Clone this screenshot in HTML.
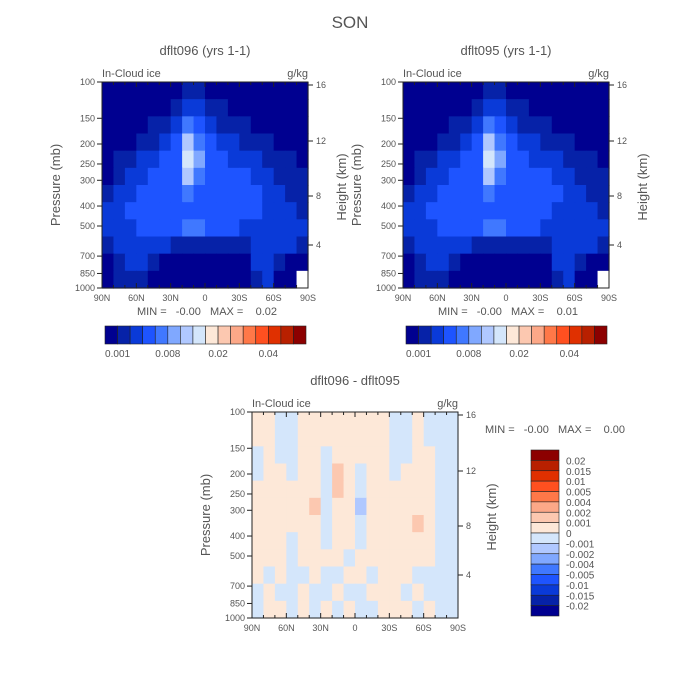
<!DOCTYPE html>
<html><head><meta charset="utf-8">
<style>
html,body{margin:0;padding:0;background:#fff;}
svg{display:block;}
text{font-family:"Liberation Sans",sans-serif;fill:#555;white-space:pre;}
</style></head>
<body>
<svg id="chart" width="700" height="700" viewBox="0 0 700 700">
<text x="350" y="28" font-size="17" text-anchor="middle">SON</text>
</svg>
<script>
const colors=["#000090","#0622a8","#0a3ad8","#1e54ff","#4078ff","#80a8ff","#b0c8ff","#d4e6fb","#fde8d8","#fcc8b0","#fca888","#ff7848","#ff5020","#e03000","#b82000","#8c0000"];
const latLabels=["90N","60N","30N","0","30S","60S","90S"];
const presTicks=[100,150,200,250,300,400,500,700,850,1000];
const heightTicks=[16,12,8,4];
const heightTickPx=[3,59,114,163];
const topBarLabels=["0.001","0.008","0.02","0.04"];
const topBarLabelIdx=[1,5,9,13];
const diffLabels=["0.02","0.015","0.01","0.005","0.004","0.002","0.001","0","-0.001","-0.002","-0.004","-0.005","-0.01","-0.015","-0.02"];
const gridA=[
[0,0,0,0,0,0,0,1,1,0,0,0,0,0,0,0,0,0],
[0,0,0,0,0,0,1,2,2,1,1,0,0,0,0,0,0,0],
[0,0,0,0,1,1,2,4,3,2,1,1,1,0,0,0,0,0],
[0,0,0,1,1,2,3,6,4,3,2,2,1,1,1,0,0,0],
[0,1,1,2,2,3,3,7,5,3,3,2,2,2,1,1,1,0],
[0,1,2,2,3,3,3,6,4,3,3,3,3,2,2,1,1,1],
[1,2,2,3,3,3,3,4,3,3,3,3,3,3,2,2,1,1],
[2,2,3,3,3,3,3,3,3,3,3,3,3,3,2,2,2,1],
[2,2,2,3,3,3,3,4,4,3,3,3,2,2,2,2,2,2],
[1,2,2,2,2,2,1,1,1,1,1,1,1,2,2,2,2,1],
[0,1,2,2,1,0,0,0,0,0,0,0,0,2,2,1,0,0],
[0,1,1,1,0,0,0,0,0,0,0,0,0,1,2,0,0,-1]];
const gridB=[
[0,0,0,0,0,0,0,1,1,0,0,0,0,0,0,0,0,0],
[0,0,0,0,0,0,1,2,2,1,1,0,0,0,0,0,0,0],
[0,0,0,0,1,1,2,4,3,2,1,1,1,0,0,0,0,0],
[0,0,0,1,1,2,3,6,4,3,2,2,1,1,1,0,0,0],
[0,1,1,2,2,3,3,7,5,3,3,2,2,2,1,1,1,0],
[0,1,2,2,3,3,3,6,4,3,3,3,3,2,2,1,1,1],
[1,2,2,3,3,3,3,4,3,3,3,3,3,3,2,2,1,1],
[2,2,3,3,3,3,3,3,3,3,3,3,3,2,2,2,2,1],
[2,2,2,3,3,3,3,4,4,3,3,3,2,2,2,2,2,2],
[1,2,2,2,2,2,1,1,1,1,1,1,1,2,2,2,2,1],
[0,1,2,2,1,0,0,0,0,0,0,0,0,2,2,1,0,0],
[0,1,1,1,0,0,0,0,0,0,0,0,0,1,2,0,0,-1]];
const gridD=[
[8,8,7,7,8,8,8,8,8,8,8,8,7,7,8,7,7,7],
[8,8,7,7,8,8,8,8,8,8,8,8,7,7,8,7,7,7],
[7,8,7,7,8,8,7,8,8,8,8,8,7,7,8,8,7,7],
[7,8,8,7,8,8,7,9,8,7,8,8,7,8,8,8,7,7],
[8,8,8,8,8,8,7,9,8,7,8,8,8,8,8,8,7,7],
[8,8,8,8,8,9,7,8,8,6,8,8,8,8,8,8,7,7],
[8,8,8,8,8,8,7,8,8,7,8,8,8,8,9,8,7,7],
[8,8,8,7,8,8,7,8,8,7,8,8,8,8,8,8,7,7],
[8,8,8,7,8,8,8,8,7,8,8,8,8,8,8,8,7,7],
[8,7,8,7,7,8,7,7,8,8,7,8,8,8,7,7,7,7],
[7,8,7,7,8,7,7,8,7,7,8,8,8,7,8,7,7,7],
[7,8,8,7,8,7,8,7,8,7,7,8,8,8,7,8,7,7]];

const NS="http://www.w3.org/2000/svg";
const svg=document.getElementById('chart');
const W=206,H=206;
function mk(tag,attrs,parent){const e=document.createElementNS(NS,tag);for(const k in attrs)e.setAttribute(k,attrs[k]);(parent||svg).appendChild(e);return e;}
function yP(p){return H*Math.log(1000/p)/Math.log(10);}
function drawPanel(ox,oy,grid,title,name){
  const g=mk('g',{});
  
  
  const rows=grid.length,cols=grid[0].length;
  const cw=W/cols,rh=H/rows;
  for(let r=0;r<rows;r++)for(let c=0;c<cols;c++){
    const v=grid[r][c];
    const rc=mk('rect',{x:ox+c*cw,y:oy+r*rh,width:cw+0.6,height:rh+0.6,fill:v<0?'#fff':colors[v]},g);
    
    
  }
  const fr=mk('rect',{x:ox,y:oy,width:W,height:H,fill:'none',stroke:'#222','stroke-width':1},g);
  
  
  const t=mk('text',{x:ox+W/2,y:oy-27,'font-size':13,'text-anchor':'middle'},g);t.textContent=title;
  
  
  const l=mk('text',{x:ox,y:oy-5,'font-size':11},g);l.textContent='In-Cloud ice';
  
  
  const u=mk('text',{x:ox+W,y:oy-5,'font-size':11,'text-anchor':'end'},g);u.textContent='g/kg';
  
  
  for(let i=0;i<=18;i++){
    const x=ox+i*W/18;const len=i%3===0?5:3;
    mk('line',{x1:x,y1:oy+H,x2:x,y2:oy+H-len,stroke:'#222'},g);
    mk('line',{x1:x,y1:oy,x2:x,y2:oy+len,stroke:'#222'},g);
  }
  latLabels.forEach((s,i)=>{const tx=mk('text',{x:ox+i*W/6,y:oy+H+13,'font-size':9,'text-anchor':'middle'},g);tx.textContent=s;
    
    });
  presTicks.forEach(p=>{const y=oy+H-yP(p);mk('line',{x1:ox-5,y1:y,x2:ox,y2:y,stroke:'#222'},g);
    const tx=mk('text',{x:ox-7,y:y+3,'font-size':9,'text-anchor':'end'},g);tx.textContent=p;
    
    });
  heightTicks.forEach((h,i)=>{const y=oy+heightTickPx[i];mk('line',{x1:ox+W,y1:y,x2:ox+W+5,y2:y,stroke:'#222'},g);
    const tx=mk('text',{x:ox+W+8,y:y+3,'font-size':9},g);tx.textContent=h;
    
    });
  const ya=mk('text',{x:0,y:0,'font-size':13,'text-anchor':'middle',transform:`translate(${ox-42},${oy+H/2}) rotate(-90)`},g);ya.textContent='Pressure (mb)';
  
  
  const ya2=mk('text',{x:0,y:0,'font-size':13,'text-anchor':'middle',transform:`translate(${ox+W+38},${oy+105}) rotate(-90)`},g);ya2.textContent='Height (km)';
  
  
}
function hBar(ox,oy,maxTxt){
  const g=mk('g',{});
  
  
  const bw=201/16;
  colors.forEach((c,i)=>{const r=mk('rect',{x:ox+i*bw,y:oy,width:bw,height:18,fill:c,stroke:'#222','stroke-width':0.6},g);
    
    });
  topBarLabels.forEach((s,i)=>{const t=mk('text',{x:ox+topBarLabelIdx[i]*bw,y:oy+31,'font-size':10,'text-anchor':'middle'},g);t.textContent=s;
    
    });
  const m=mk('text',{x:ox+102,y:oy-11,'font-size':11,'text-anchor':'middle'},g);m.textContent=maxTxt;
  
  
}
drawPanel(102,82,gridA,'dflt096 (yrs 1-1)','panel-dflt096');
hBar(105,326,'MIN =   -0.00   MAX =    0.02');
drawPanel(403,82,gridB,'dflt095 (yrs 1-1)','panel-dflt095');
hBar(406,326,'MIN =   -0.00   MAX =    0.01');
drawPanel(252,412,gridD,'dflt096 - dflt095','panel-difference');
const dg=mk('g',{});


const bh=166/16;
for(let i=0;i<16;i++){const r=mk('rect',{x:531,y:450+i*bh,width:28,height:bh,fill:colors[15-i],stroke:'#222','stroke-width':0.6},dg);
  
  }
diffLabels.forEach((s,i)=>{const t=mk('text',{x:566,y:450+(i+1)*bh+4,'font-size':10},dg);t.textContent=s;
  
  });
const mm=mk('text',{x:485,y:433,'font-size':11},dg);mm.textContent='MIN =   -0.00   MAX =    0.00';


</script>
</body></html>
